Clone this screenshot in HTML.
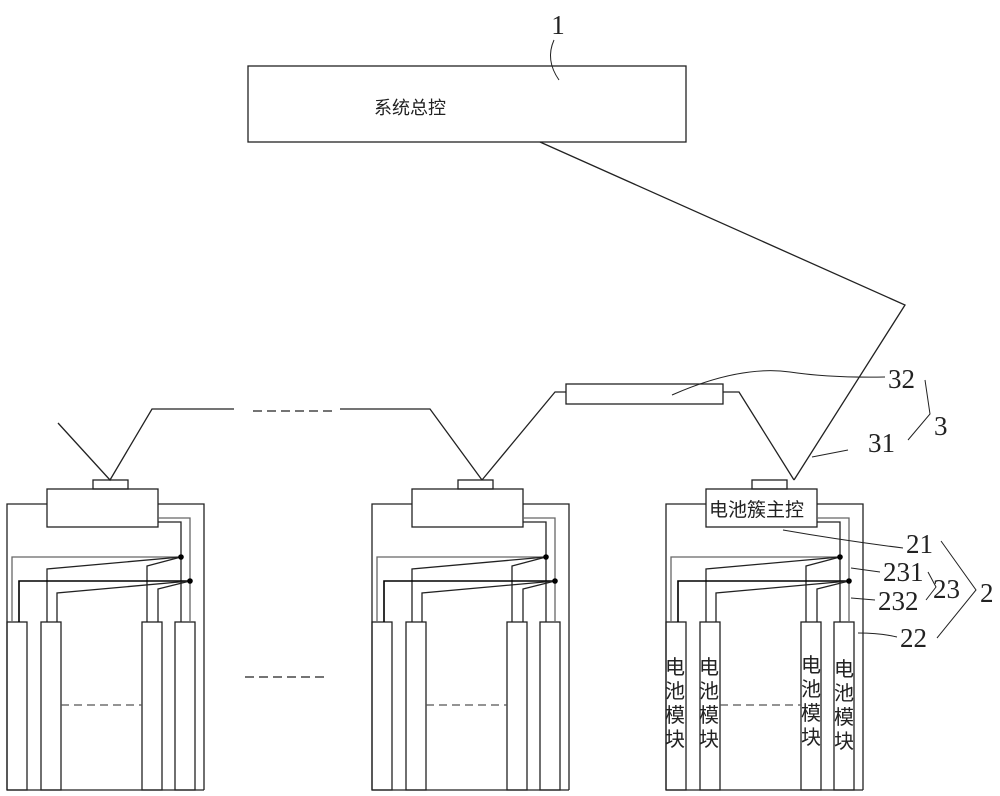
<!DOCTYPE html>
<html><head><meta charset="utf-8"><style>html,body{margin:0;padding:0;background:#fff}svg{display:block}</style></head>
<body>
<svg width="1000" height="796" viewBox="0 0 1000 796" xmlns="http://www.w3.org/2000/svg" fill="none" stroke="#222" stroke-width="1.3">
<defs>
<g id="cab">
  <polyline points="7,790 7,504 47,504"/>
  <polyline points="158,504 204,504 204,790"/>
  <line x1="7" y1="790" x2="204" y2="790"/>
  <rect x="47" y="489" width="111" height="38"/>
  <rect x="93" y="480" width="35" height="9"/>
  <rect x="7" y="622" width="20" height="168"/>
  <rect x="41" y="622" width="20" height="168"/>
  <rect x="142" y="622" width="20" height="168"/>
  <rect x="175" y="622" width="20" height="168"/>
  <polyline points="158,518 190,518 190,622" stroke="#666"/>
  <polyline points="158,522 181,522 181,622"/>
  <polyline points="12,622 12,557 181,557" stroke="#666"/>
  <polyline points="47,622 47,569 181,557"/>
  <polyline points="147,622 147,566 181,557"/>
  <polyline points="19,622 19,581 190,581" stroke="#000" stroke-width="1.6"/>
  <polyline points="57,622 57,593 190,581"/>
  <polyline points="158,622 158,589 190,581"/>
  <circle cx="181" cy="557" r="2.8" fill="#000" stroke="none"/>
  <circle cx="190" cy="581" r="2.8" fill="#000" stroke="none"/>
  <line x1="61" y1="705" x2="142" y2="705" stroke-dasharray="8,5" stroke="#555"/>
</g>
</defs>
<use href="#cab"/>
<use href="#cab" x="365"/>
<use href="#cab" x="659"/>

<rect x="248" y="66" width="438" height="76"/>
<text x="410" y="114" font-family="Liberation Sans, Noto Sans CJK SC, sans-serif" font-size="18" fill="#222" stroke="none" text-anchor="middle">系统总控</text>
<text x="558" y="34" font-family="Liberation Serif, serif" font-size="27" fill="#222" stroke="none" text-anchor="middle">1</text>
<path d="M554,40 Q545,60 559,80" stroke-width="1"/>

<polyline points="540,142 905,305 794,480"/>
<rect x="566" y="384" width="157" height="20"/>
<polyline points="566,392 555,392 482,480"/>
<polyline points="723,392 739,392 794,480"/>
<polyline points="58,423 110,480 152,409 234,409"/>
<line x1="253" y1="411" x2="336" y2="411" stroke-dasharray="9,5"/>
<polyline points="340,409 430,409 482,480"/>
<line x1="245" y1="677" x2="327" y2="677" stroke-dasharray="9,5"/>

<text x="709" y="516" font-family="Liberation Sans, Noto Sans CJK SC, sans-serif" font-size="19" fill="#222" stroke="none">电池簇主控</text>
<g font-family="Liberation Sans, Noto Sans CJK SC, sans-serif" font-size="20" fill="#222" stroke="none">
<text x="665" y="674">电</text><text x="665" y="698">池</text><text x="665" y="722">模</text><text x="665" y="746">块</text>
<text x="699" y="674">电</text><text x="699" y="698">池</text><text x="699" y="722">模</text><text x="699" y="746">块</text>
<text x="801" y="672">电</text><text x="801" y="696">池</text><text x="801" y="720">模</text><text x="801" y="744">块</text>
<text x="834" y="676">电</text><text x="834" y="700">池</text><text x="834" y="724">模</text><text x="834" y="748">块</text>
</g>

<g font-family="Liberation Serif, serif" font-size="27" fill="#222" stroke="none">
<text x="888" y="388">32</text>
<text x="868" y="452">31</text>
<text x="934" y="435">3</text>
<text x="906" y="553">21</text>
<text x="883" y="581">231</text>
<text x="933" y="598">23</text>
<text x="878" y="610">232</text>
<text x="980" y="602">2</text>
<text x="900" y="647">22</text>
</g>
<g stroke-width="1">
<path d="M672,395 Q740,365 790,372 Q830,378 885,377"/>
<path d="M812,457 L848,450"/>
<polyline points="925,380 930,414 908,440"/>
<path d="M783,530 Q840,540 903,548"/>
<line x1="851" y1="568" x2="880" y2="572"/>
<line x1="851" y1="598" x2="875" y2="600"/>
<path d="M858,633 Q880,633 897,637"/>
<polyline points="941,541 976,590 937,638"/>
<polyline points="928,572 936,587 926,600"/>
</g>
</svg>
</body></html>
